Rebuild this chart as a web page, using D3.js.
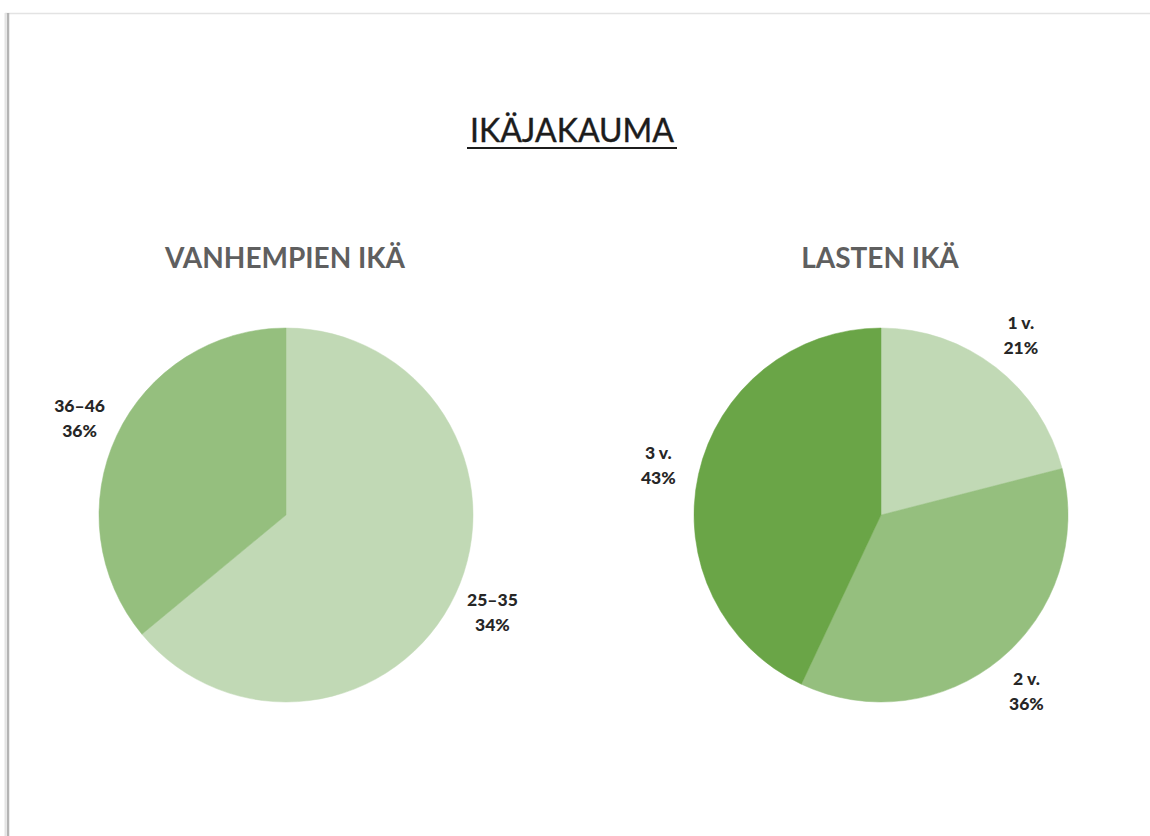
<!DOCTYPE html>
<html>
<head>
<meta charset="utf-8">
<script src="https://cdn.jsdelivr.net/npm/d3@7"></script>
<style>
  body { margin: 0; background: #fff; }
  text { font-family: Lato, "Open Sans", sans-serif; }
</style>
</head>
<body>
<div id="chart"></div>
<script>
// Sizes
const width = 1150;
const height = 836;
const radius = 187;

// Data
const parentAges = ["25–35", "36–46"];
const parentShares = [64, 36];          // slice sizes as drawn
const parentLabels = ["34%", "36%"];    // labels as printed on the chart

const childAges = ["1 v.", "2 v.", "3 v."];
const childShares = [21, 36, 43];
const childLabels = ["21%", "36%", "43%"];

const greens = ["#c1d9b5", "#95bf7e", "#6ba547"];

const svg = d3.select("#chart")
  .append("svg")
  .attr("width", width)
  .attr("height", height);

// Slide frame
svg.append("line")
  .attr("x1", 5).attr("x2", width)
  .attr("y1", 13.5).attr("y2", 13.5)
  .attr("stroke", "#e3e3e3").attr("stroke-width", 1.5);
svg.append("line")
  .attr("x1", 8).attr("x2", 8)
  .attr("y1", 13).attr("y2", height)
  .attr("stroke", "#b4b4b4").attr("stroke-width", 2.5);
svg.append("line")
  .attr("x1", 5.5).attr("x2", 5.5)
  .attr("y1", 13).attr("y2", height)
  .attr("stroke", "#e4e4e4").attr("stroke-width", 2);

// soft edge like the screenshot
const defs = svg.append("defs");
defs.append("filter").attr("id", "soft")
  .append("feGaussianBlur").attr("stdDeviation", 0.7);

// Main title
svg.append("text")
  .attr("x", 572)
  .attr("y", 142)
  .attr("text-anchor", "middle")
  .attr("font-size", 32)
  .attr("fill", "#1c1c1c")
  .attr("stroke", "#1c1c1c")
  .attr("stroke-width", 0.4)
  .text("IKÄJAKAUMA");

svg.append("line")
  .attr("x1", 467).attr("x2", 677)
  .attr("y1", 148).attr("y2", 148)
  .attr("stroke", "#1c1c1c")
  .attr("stroke-width", 2);

function drawPie(cx, name, cats, shares, labels){

  const g = svg.append("g")
    .attr("transform", `translate(${cx},515)`);

  svg.append("text")
    .attr("x", cx - 1)
    .attr("y", 268)
    .attr("text-anchor", "middle")
    .attr("font-size", 28)
    .attr("font-weight", "bold")
    .attr("fill", "#5f5f5f")
    .text(name);

  const rows = cats.map((c, i) => ({cat: c, share: shares[i], label: labels[i], i: i}));

  const pie = d3.pie()
    .sort(null)
    .value(d => d.share);

  const arc = d3.arc().innerRadius(0).outerRadius(radius);
  const labelArc = d3.arc().innerRadius(radius * 1.22).outerRadius(radius * 1.22);

  const arcs = pie(rows);

  g.selectAll(".slice")
    .data(arcs)
    .enter()
    .append("path")
    .attr("class", "slice")
    .attr("d", arc)
    .attr("fill", d => greens[d.data.i])
    .attr("stroke", d => greens[d.data.i])
    .attr("stroke-width", 0.5)
    .attr("filter", "url(#soft)");

  const lab = g.selectAll(".lab")
    .data(arcs)
    .enter()
    .append("text")
    .attr("class", "lab")
    .attr("text-anchor", "middle")
    .attr("font-size", 17.5)
    .attr("font-weight", "900")
    .attr("fill", "#262626")
    .attr("transform", d => `translate(${labelArc.centroid(d)})`);

  lab.append("tspan")
    .attr("x", 0).attr("y", -6)
    .text(d => d.data.cat);
  lab.append("tspan")
    .attr("x", 0).attr("y", 19)
    .text(d => d.data.label);
}

drawPie(286, "VANHEMPIEN IKÄ", parentAges, parentShares, parentLabels);
drawPie(881, "LASTEN IKÄ", childAges, childShares, childLabels);
</script>
</body>
</html>
